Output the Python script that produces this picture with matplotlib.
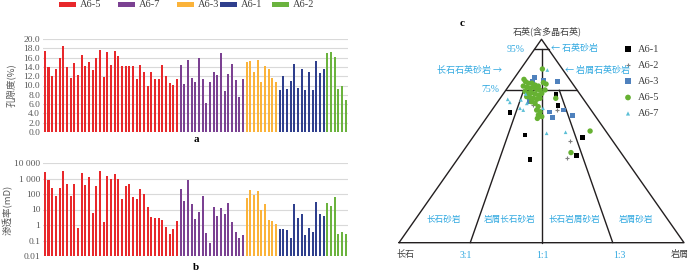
import matplotlib
matplotlib.use("Agg")
import matplotlib.pyplot as plt
from matplotlib.patches import Rectangle
import numpy as np

plt.rcParams['font.family'] = ['Liberation Serif', 'Noto Sans CJK SC', 'DejaVu Sans']

W, H = 700, 271

# ---- bar data (wells in plotting order) ----
groups = ["A6-5", "A6-7", "A6-3", "A6-1", "A6-2"]
bar_colors = ["#E8282B", "#7B4192", "#FBB33A", "#2F3F8D", "#6BB33E"]

porosity = {
    "A6-5": [17.4, 13.9, 12.0, 13.5, 16.0, 18.6, 13.9, 11.6, 14.8, 12.3, 16.5, 14.1,
             15.0, 13.4, 16.0, 17.7, 11.9, 17.1, 14.4, 17.4, 16.4, 14.3, 14.3, 14.2,
             14.3, 11.3, 14.5, 12.8, 9.9, 12.8, 11.5, 11.5, 14.5, 12.1, 10.5, 10.2, 11.4],
    "A6-7": [14.5, 10.3, 15.5, 11.7, 10.7, 16.0, 11.5, 6.2, 10.7, 12.9, 12.3, 17.0,
             8.8, 12.4, 14.7, 11.1, 7.6, 11.3],
    "A6-3": [15.0, 15.2, 12.9, 15.4, 10.7, 14.3, 13.5, 11.7, 10.8],
    "A6-1": [9.0, 12.0, 9.3, 10.9, 14.6, 9.4, 13.6, 9.0, 12.9, 9.0, 15.2, 12.6, 13.6],
    "A6-2": [17.0, 17.1, 16.1, 9.2, 9.8, 6.9],
}
permeability = {
    "A6-5": [2500, 800, 230, 75, 250, 3000, 450, 80, 430, 0.6, 2300, 400, 1200, 6, 330,
             2900, 1.6, 1500, 1000, 2000, 900, 50, 320, 420, 60, 50, 200, 95, 14, 3.3,
             2.8, 2.8, 2.1, 0.7, 0.28, 0.55, 1.9],
    "A6-7": [200, 33, 800, 22, 2.6, 7, 75, 0.3, 0.065, 14, 4, 13, 4.8, 25, 1.6, 0.38,
             0.14, 0.24],
    "A6-3": [55, 170, 85, 150, 9, 22, 2.1, 1.8, 1.1],
    "A6-1": [0.55, 0.55, 0.5, 0.14, 22, 2.8, 5.2, 0.23, 0.65, 0.35, 30, 5.5, 3.6],
    "A6-2": [25, 17, 65, 0.28, 0.33, 0.27],
}
perm_ticks = [0.01, 0.1, 1, 10, 100, 1000, 10000]
perm_labels = ["0.01", "0.1", "1", "10", "100", "1 000", "10 000"]

# ---- ternary data: quartz (Q) and lithic (R) percent, feldspar = rest ----
tern_names = ["A6-1", "A6-2", "A6-3", "A6-5", "A6-7"]
tern_q = {
    "A6-1": [64.1, 73.0, 67.5, 53.0, 51.8, 41.0, 42.8],
    "A6-2": [65.2, 67.7, 49.8, 41.8],
    "A6-3": [81.3, 79.2, 80.0, 79.2, 65.2, 64.3, 61.5, 62.6, 69.3],
    "A6-5": [85.4, 80.3, 79.2, 78.4, 78.4, 77.5, 77.0, 78.7, 78.0, 77.0, 76.4, 75.9,
             76.4, 75.4, 75.1, 75.1, 74.3, 73.4, 73.8, 73.1, 72.6, 73.4, 71.8, 71.5,
             71.0, 70.5, 71.0, 69.3, 68.5, 66.9, 65.2, 64.4, 62.8, 62.0, 61.1, 71.0,
             54.9, 44.3],
    "A6-7": [84.9, 70.5, 69.0, 66.1, 65.2, 68.5, 70.2, 73.1, 66.1, 53.8, 54.3],
}
tern_r = {
    "A6-1": [6.9, 18.6, 22.0, 17.7, 38.4, 25.4, 40.9],
    "A6-2": [23.0, 13.1, 35.1, 38.2],
    "A6-3": [6.9, 7.3, 10.6, 16.0, 25.1, 20.6, 23.1, 29.6, 11.0],
    "A6-5": [7.6, 3.7, 4.8, 6.2, 7.4, 9.0, 10.4, 11.3, 12.6, 5.1, 6.6, 8.0, 8.9, 10.6,
             11.9, 13.7, 7.1, 8.7, 9.7, 11.2, 12.6, 13.4, 8.9, 10.2, 11.6, 13.1, 14.0,
             11.9, 13.5, 15.4, 15.7, 17.3, 17.5, 19.1, 18.0, 19.5, 39.6, 38.2],
    "A6-7": [9.6, 2.9, 4.4, 9.4, 11.0, 10.6, 7.7, 7.9, 17.5, 24.9, 31.3],
}
tern_style = {
    "A6-1": dict(marker="s", color="#000000", s=11),
    "A6-2": dict(marker="+", color="#7F7F7F", s=9, linewidths=0.8),
    "A6-3": dict(marker="s", color="#4F81BD", s=11),
    "A6-5": dict(marker="o", color="#66B132", s=15),
    "A6-7": dict(marker="^", color="#5BBFD6", s=7),
}

CYAN = "#2FA8E0"
GREY = "#595959"
CJK = ['Noto Sans CJK SC', 'DejaVu Sans']


def fx(px):
    return px / W


def fy(py):
    return 1 - py / H


fig = plt.figure(figsize=(7.0, 2.71), dpi=100)

# ---- legend for the bars ----
legend_px = [59, 118, 177, 220, 272]
for name, col, lx in zip(groups, bar_colors, legend_px):
    fig.patches.append(Rectangle((fx(lx), fy(7)), 17 / W, 5 / H, transform=fig.transFigure,
                                 facecolor=col, edgecolor="none"))
    fig.text(fx(lx + 21), fy(4.5), name, fontsize=7.5, va="center", color="#404040")

# ---- bar panels ----
xs_all, por_all, perm_all, col_all = [], [], [], []
i = 0
for name, col in zip(groups, bar_colors):
    for p, k in zip(porosity[name], permeability[name]):
        xs_all.append(i)
        por_all.append(p)
        perm_all.append(k)
        col_all.append(col)
        i += 1
xs_all = np.array(xs_all)
n = len(xs_all)

ax1 = fig.add_axes([fx(43), fy(132), 305 / W, 93 / H])
ax1.bar(xs_all, por_all, width=0.55, color=col_all, zorder=3)
ax1.set_ylim(0, 20)
ax1.set_yticks(np.arange(0, 20.1, 2))
ax1.set_yticklabels([f"{v:.1f}" for v in np.arange(0, 20.1, 2)])
ax1.set_ylabel("孔隙度(%)", family=CJK, fontsize=6.8, color=GREY, va="center")
ax1.yaxis.set_label_coords((11 - 43) / 305, 0.5)

ax2 = fig.add_axes([fx(43), fy(256), 305 / W, 93 / H])
ax2.set_yscale("log")
ax2.bar(xs_all, np.array(perm_all) - 0.01, bottom=0.01, width=0.55, color=col_all, zorder=3)
ax2.set_ylim(0.01, 10000)
ax2.set_yticks(perm_ticks)
ax2.set_yticklabels(perm_labels)
ax2.minorticks_off()
ax2.set_ylabel("渗透率(mD)", family=CJK, fontsize=6.8, color=GREY, va="center")
ax2.yaxis.set_label_coords((8 - 43) / 305, 0.5)

for ax in (ax1, ax2):
    ax.set_xlim(-0.5, n - 0.4)
    ax.set_xticks([])
    for sp in ax.spines.values():
        sp.set_visible(False)
    ax.grid(axis="y", color="#D9D9D9", linewidth=0.8, zorder=0)
    ax.tick_params(axis="y", length=0, labelsize=6.8, labelcolor=GREY, pad=2)

fig.text(fx(196), fy(139), "a", fontsize=8, fontweight="bold", ha="center", va="center")
fig.text(fx(196), fy(267), "b", fontsize=8, fontweight="bold", ha="center", va="center")

# ---- ternary panel ----
axt = fig.add_axes([fx(399), fy(242.7), 285 / W, 203.4 / H])
axt.set_xlim(0, 1)
axt.set_ylim(0, 1)
axt.axis("off")
lk = dict(color="#231F20", linewidth=1.0, solid_capstyle="round", clip_on=False)
axt.plot([0, 0.5, 1, 0], [0, 1, 0, 0], **lk)
axt.plot([0.475, 0.525], [0.95, 0.95], **lk)
axt.plot([0.375, 0.625], [0.75, 0.75], **lk)
axt.plot([0.5, 0.5], [0.95, 0], **lk)
axt.plot([0.4375, 0.25], [0.75, 0], **lk)
axt.plot([0.5625, 0.75], [0.75, 0], **lk)

for name in tern_names:
    q = np.array(tern_q[name]) / 100
    r = np.array(tern_r[name]) / 100
    axt.scatter(r + q / 2, q, zorder=4, clip_on=False, edgecolors="none" if name != "A6-2" else None,
                **tern_style[name])

# ternary legend
leg_y = [49, 65, 81, 97.5, 113.5]
for name, ly in zip(tern_names, leg_y):
    st = dict(tern_style[name])
    st["s"] = st["s"] + 2
    fig.text(fx(638), fy(ly), name, fontsize=7.5, va="center", color="#404040")
    axl = fig.add_axes([fx(624), fy(ly + 4), 8 / W, 8 / H])
    axl.axis("off")
    axl.set_xlim(-1, 1)
    axl.set_ylim(-1, 1)
    axl.scatter([0], [0], edgecolors="none" if name != "A6-2" else None, **st)

fig.text(fx(462), fy(23), "c", fontsize=8, fontweight="bold", ha="center", va="center")
fig.text(fx(547), fy(31.5), "石英(含多晶石英)", family=CJK, fontsize=6.5, color="#404040",
         ha="center", va="center")
fig.text(fx(516), fy(49), "95%", fontsize=7, color=CYAN, ha="center", va="center")
fig.text(fx(490), fy(90), "75%", fontsize=7, color=CYAN, ha="center", va="center")
fig.text(fx(551), fy(49), "← 石英砂岩", family=CJK, fontsize=6.5, color=CYAN, va="center")
fig.text(fx(502), fy(70.5), "长石石英砂岩 →", family=CJK, fontsize=6.5, color=CYAN,
         ha="right", va="center")
fig.text(fx(565), fy(70.5), "← 岩屑石英砂岩", family=CJK, fontsize=6.5, color=CYAN, va="center")

for label, cx in zip(["长石砂岩", "岩屑长石砂岩", "长石岩屑砂岩", "岩屑砂岩"], [444, 510, 574, 636]):
    fig.text(fx(cx), fy(219.5), label, family=CJK, fontsize=6.2, color=CYAN, ha="center", va="center")

fig.text(fx(405), fy(255), "长石", family=CJK, fontsize=6.5, color="#404040", ha="center", va="center")
fig.text(fx(680), fy(255), "岩屑", family=CJK, fontsize=6.5, color="#404040", ha="center", va="center")
for label, cx in zip(["3:1", "1:1", "1:3"], [466, 542, 619]):
    fig.text(fx(cx), fy(255), label, fontsize=7, color=CYAN, ha="center", va="center")

fig.savefig("out.png", dpi=100)
